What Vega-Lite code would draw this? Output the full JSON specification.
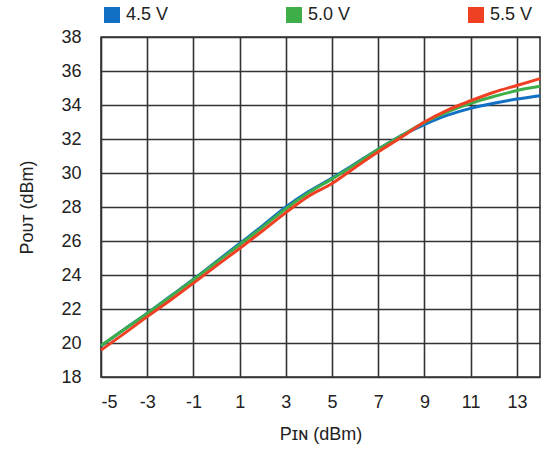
{
  "$schema": "https://vega.github.io/schema/vega-lite/v6.json",
  "width": 439,
  "height": 340,
  "autosize": {"type": "none"},
  "padding": {"left": 101, "top": 37, "right": 7, "bottom": 81},
  "background": "white",
  "data": {
    "values": [
      {"pin": -5, "pout": 19.82, "v": "4.5 V"},
      {"pin": -4, "pout": 20.8, "v": "4.5 V"},
      {"pin": -3, "pout": 21.75, "v": "4.5 V"},
      {"pin": -2, "pout": 22.75, "v": "4.5 V"},
      {"pin": -1, "pout": 23.75, "v": "4.5 V"},
      {"pin": 0, "pout": 24.8, "v": "4.5 V"},
      {"pin": 1, "pout": 25.85, "v": "4.5 V"},
      {"pin": 2, "pout": 26.9, "v": "4.5 V"},
      {"pin": 3, "pout": 28.0, "v": "4.5 V"},
      {"pin": 4, "pout": 28.92, "v": "4.5 V"},
      {"pin": 5, "pout": 29.7, "v": "4.5 V"},
      {"pin": 6, "pout": 30.55, "v": "4.5 V"},
      {"pin": 7, "pout": 31.4, "v": "4.5 V"},
      {"pin": 8, "pout": 32.2, "v": "4.5 V"},
      {"pin": 9, "pout": 32.85, "v": "4.5 V"},
      {"pin": 10, "pout": 33.4, "v": "4.5 V"},
      {"pin": 11, "pout": 33.8, "v": "4.5 V"},
      {"pin": 12, "pout": 34.1, "v": "4.5 V"},
      {"pin": 13, "pout": 34.35, "v": "4.5 V"},
      {"pin": 14, "pout": 34.55, "v": "4.5 V"},
      {"pin": -5, "pout": 19.84, "v": "5.0 V"},
      {"pin": -4, "pout": 20.8, "v": "5.0 V"},
      {"pin": -3, "pout": 21.73, "v": "5.0 V"},
      {"pin": -2, "pout": 22.72, "v": "5.0 V"},
      {"pin": -1, "pout": 23.72, "v": "5.0 V"},
      {"pin": 0, "pout": 24.75, "v": "5.0 V"},
      {"pin": 1, "pout": 25.78, "v": "5.0 V"},
      {"pin": 2, "pout": 26.82, "v": "5.0 V"},
      {"pin": 3, "pout": 27.9, "v": "5.0 V"},
      {"pin": 4, "pout": 28.85, "v": "5.0 V"},
      {"pin": 5, "pout": 29.65, "v": "5.0 V"},
      {"pin": 6, "pout": 30.5, "v": "5.0 V"},
      {"pin": 7, "pout": 31.4, "v": "5.0 V"},
      {"pin": 8, "pout": 32.2, "v": "5.0 V"},
      {"pin": 9, "pout": 32.98, "v": "5.0 V"},
      {"pin": 10, "pout": 33.6, "v": "5.0 V"},
      {"pin": 11, "pout": 34.1, "v": "5.0 V"},
      {"pin": 12, "pout": 34.5, "v": "5.0 V"},
      {"pin": 13, "pout": 34.85, "v": "5.0 V"},
      {"pin": 14, "pout": 35.1, "v": "5.0 V"},
      {"pin": -5, "pout": 19.58, "v": "5.5 V"},
      {"pin": -4, "pout": 20.55, "v": "5.5 V"},
      {"pin": -3, "pout": 21.55, "v": "5.5 V"},
      {"pin": -2, "pout": 22.52, "v": "5.5 V"},
      {"pin": -1, "pout": 23.52, "v": "5.5 V"},
      {"pin": 0, "pout": 24.55, "v": "5.5 V"},
      {"pin": 1, "pout": 25.56, "v": "5.5 V"},
      {"pin": 2, "pout": 26.6, "v": "5.5 V"},
      {"pin": 3, "pout": 27.67, "v": "5.5 V"},
      {"pin": 4, "pout": 28.65, "v": "5.5 V"},
      {"pin": 5, "pout": 29.38, "v": "5.5 V"},
      {"pin": 6, "pout": 30.33, "v": "5.5 V"},
      {"pin": 7, "pout": 31.25, "v": "5.5 V"},
      {"pin": 8, "pout": 32.1, "v": "5.5 V"},
      {"pin": 9, "pout": 33.0, "v": "5.5 V"},
      {"pin": 10, "pout": 33.7, "v": "5.5 V"},
      {"pin": 11, "pout": 34.25, "v": "5.5 V"},
      {"pin": 12, "pout": 34.75, "v": "5.5 V"},
      {"pin": 13, "pout": 35.15, "v": "5.5 V"},
      {"pin": 14, "pout": 35.55, "v": "5.5 V"}
    ]
  },
  "mark": {"type": "line", "strokeWidth": 3, "interpolate": "monotone"},
  "encoding": {
    "x": {
      "field": "pin",
      "type": "quantitative",
      "scale": {"domain": [-5, 14], "nice": false, "zero": false},
      "axis": {
        "title": "Pɪɴ (dBm)",
        "values": [-5, -3, -1, 1, 3, 5, 7, 9, 11, 13],
        "labelExpr": "'' + datum.value",
        "labelPadding": 16,
        "titlePadding": 14
      }
    },
    "y": {
      "field": "pout",
      "type": "quantitative",
      "scale": {"domain": [18, 38], "nice": false, "zero": false},
      "axis": {
        "title": "Pᴏᴜᴛ (dBm)",
        "values": [18, 20, 22, 24, 26, 28, 30, 32, 34, 36, 38],
        "labelPadding": 20,
        "titlePadding": 24
      }
    },
    "color": {
      "field": "v",
      "type": "nominal",
      "scale": {"domain": ["4.5 V", "5.0 V", "5.5 V"], "range": ["#1170C4", "#3DAE49", "#F04023"]},
      "legend": {
        "title": null,
        "orient": "none",
        "legendX": 2,
        "legendY": -31,
        "direction": "horizontal",
        "columns": 3,
        "columnPadding": 116,
        "symbolType": "square",
        "symbolSize": 256,
        "symbolStrokeWidth": 0,
        "labelOffset": 5,
        "labelFontSize": 18,
        "labelFont": "Liberation Sans",
        "labelColor": "#222",
        "encode": {
          "symbols": {"update": {"fill": {"scale": "color", "field": "value"}, "fillOpacity": {"value": 1}, "strokeWidth": {"value": 0}}}
        }
      }
    }
  },
  "config": {
    "view": {"stroke": "#333", "strokeWidth": 1.6},
    "axis": {
      "grid": true,
      "gridColor": "#333",
      "gridWidth": 1.6,
      "gridOpacity": 1,
      "ticks": false,
      "domain": false,
      "labelFont": "Liberation Sans",
      "labelFontSize": 18,
      "labelColor": "#222",
      "titleFont": "Liberation Sans",
      "titleFontSize": 18,
      "titleFontWeight": "normal",
      "titleColor": "#222"
    }
  }
}
